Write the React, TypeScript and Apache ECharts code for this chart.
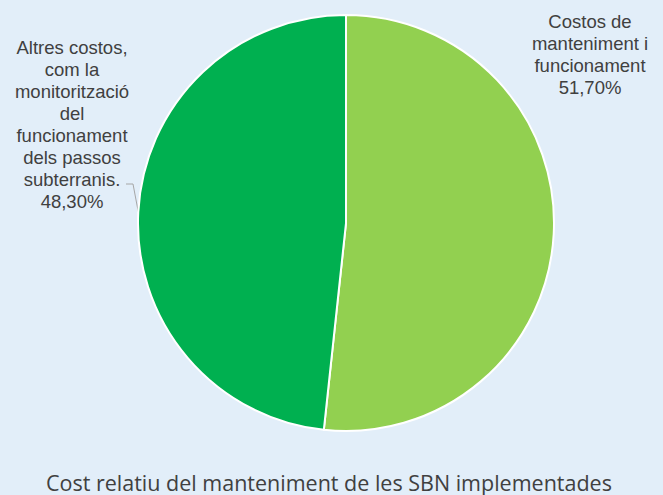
import React, { useEffect, useRef } from "react";
import * as echarts from "echarts";

const categories = [
  "Costos de\nmanteniment i\nfuncionament",
  "Altres costos,\ncom la\nmonitorització\ndel\nfuncionament\ndels passos\nsubterranis.",
];
const values = [51.7, 48.3];
const colors = ["#92D050", "#00B050"];
const title = "Cost relatiu del manteniment de les SBN implementades";

export default function App() {
  const ref = useRef<HTMLDivElement>(null);
  useEffect(() => {
    document.body.style.margin = "0";
    const chart = echarts.init(ref.current!, null, { renderer: "svg" });
    const labelPos = [
      { x: 590, y: 54 },
      { x: 72, y: 124 },
    ];
    chart.setOption({
      animation: false,
      backgroundColor: "#E2EEF9",
      title: {
        text: title,
        left: 41,
        top: 466,
        textStyle: {
          fontFamily: "Open Sans",
          fontSize: 21.5,
          fontWeight: "normal",
          color: "#404040",
        },
      },
      series: [
        {
          type: "pie",
          center: [346, 223],
          radius: 208,
          startAngle: 90,
          clockwise: true,
          itemStyle: { borderColor: "#FFFFFF", borderWidth: 2 },
          label: {
            show: true,
            position: "outside",
            fontFamily: "Liberation Sans",
            fontSize: 18.5,
            lineHeight: 22,
            color: "#404040",
            align: "center",
            overflow: "none",
            width: 160,
            formatter: (p: any) =>
              p.name + "\n" + p.value.toFixed(2).replace(".", ",") + "%",
          },
          labelLine: {
            show: true,
            lineStyle: { color: "#A6A6A6", width: 1 },
          },
          labelLayout: (params: any) => {
            const pos = labelPos[params.dataIndex];
            const out: any = {
              x: pos.x,
              y: pos.y,
              align: "center",
              verticalAlign: "middle",
            };
            if (params.dataIndex === 1 && params.labelLinePoints) {
              const a = params.labelLinePoints[0];
              out.labelLinePoints = [a, [133, 184], [126, 184]];
            }
            return out;
          },
          data: values.map((v, i) => ({
            name: categories[i],
            value: v,
            itemStyle: { color: colors[i] },
            labelLine: { show: i === 1 },
          })),
        },
      ],
    });
    return () => chart.dispose();
  }, []);
  return (
    <div
      ref={ref}
      style={{ width: 663, height: 495, position: "fixed", left: 0, top: 0 }}
    />
  );
}
